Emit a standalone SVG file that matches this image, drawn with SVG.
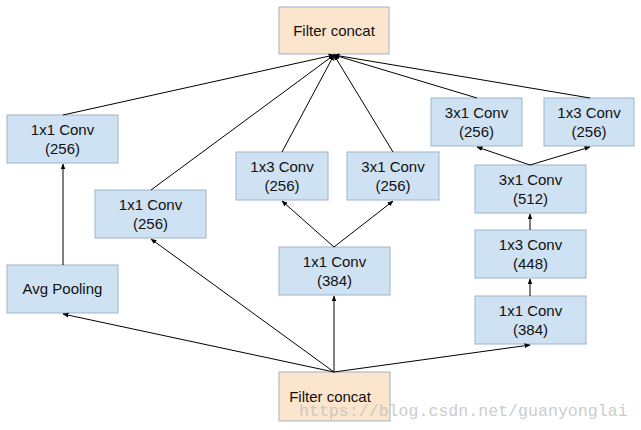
<svg xmlns="http://www.w3.org/2000/svg" width="641" height="430" viewBox="0 0 641 430">
<defs>
<style>
.b{fill:#cfe2f3;stroke:#9db3cc;stroke-width:1}
.o{fill:#fce5cd;stroke:#9db3cc;stroke-width:1}
.t{font-family:"Liberation Sans",Arial,sans-serif;font-size:15px;fill:#111;text-anchor:middle}
.c line{stroke:#000;stroke-width:1;marker-end:url(#a)}
.w{font-family:"Liberation Mono","Courier New",monospace;font-size:16.6px;fill:#c4c4c4;opacity:0.85}
</style>
<marker id="a" viewBox="0 0 10 10" refX="9" refY="5" markerWidth="6" markerHeight="6" orient="auto" markerUnits="userSpaceOnUse">
<path d="M0,1 L10,5 L0,9 z" fill="#000"/>
</marker>
</defs>
<rect width="641" height="430" fill="#fff"/>
<g id="concat_top"><rect class="o" x="279" y="7" width="110" height="47"/><text class="t" x="334" y="36">Filter concat</text></g>
<g id="conv_l1"><rect class="b" x="7" y="115" width="111" height="48"/><text class="t" x="62.5" y="135">1x1 Conv</text><text class="t" x="62.5" y="154">(256)</text></g>
<g id="avgpool"><rect class="b" x="7" y="265" width="111" height="48"/><text class="t" x="62.5" y="294">Avg Pooling</text></g>
<g id="conv_l2"><rect class="b" x="95" y="190" width="111" height="48"/><text class="t" x="150.5" y="210">1x1 Conv</text><text class="t" x="150.5" y="229">(256)</text></g>
<g id="conv_m13"><rect class="b" x="236" y="152" width="92" height="48"/><text class="t" x="282" y="172">1x3 Conv</text><text class="t" x="282" y="191">(256)</text></g>
<g id="conv_m31"><rect class="b" x="347" y="152" width="92" height="48"/><text class="t" x="393" y="172">3x1 Conv</text><text class="t" x="393" y="191">(256)</text></g>
<g id="conv_m11"><rect class="b" x="279" y="247" width="111" height="48"/><text class="t" x="334.5" y="267">1x1 Conv</text><text class="t" x="334.5" y="286">(384)</text></g>
<g id="conv_r31a"><rect class="b" x="431" y="98" width="91" height="48"/><text class="t" x="476.5" y="118">3x1 Conv</text><text class="t" x="476.5" y="137">(256)</text></g>
<g id="conv_r13a"><rect class="b" x="544" y="98" width="90" height="48"/><text class="t" x="589" y="118">1x3 Conv</text><text class="t" x="589" y="137">(256)</text></g>
<g id="conv_r31"><rect class="b" x="475" y="165" width="111" height="48"/><text class="t" x="530.5" y="185">3x1 Conv</text><text class="t" x="530.5" y="204">(512)</text></g>
<g id="conv_r13"><rect class="b" x="475" y="230" width="111" height="48"/><text class="t" x="530.5" y="250">1x3 Conv</text><text class="t" x="530.5" y="269">(448)</text></g>
<g id="conv_r11"><rect class="b" x="475" y="296" width="111" height="48"/><text class="t" x="530.5" y="316">1x1 Conv</text><text class="t" x="530.5" y="335">(384)</text></g>
<g id="concat_bottom"><rect class="o" x="279" y="372" width="111" height="49"/><text class="t" x="330" y="402">Filter concat</text></g>
<g class="c" id="connectors">
<line x1="63" y1="115" x2="334" y2="55"/>
<line x1="151" y1="190" x2="334" y2="55"/>
<line x1="282" y1="152" x2="334" y2="55"/>
<line x1="393" y1="152" x2="334" y2="55"/>
<line x1="477" y1="98" x2="334" y2="55"/>
<line x1="590" y1="98" x2="334" y2="55"/>
<line x1="63" y1="265" x2="63" y2="164"/>
<line x1="334" y1="247" x2="282" y2="201"/>
<line x1="334" y1="247" x2="393" y2="201"/>
<line x1="334" y1="372" x2="63" y2="314"/>
<line x1="334" y1="372" x2="151" y2="239"/>
<line x1="334" y1="372" x2="334" y2="296"/>
<line x1="334" y1="372" x2="530" y2="345"/>
<line x1="530" y1="296" x2="530" y2="279"/>
<line x1="530" y1="230" x2="530" y2="214"/>
<line x1="530" y1="165" x2="477" y2="147"/>
<line x1="530" y1="165" x2="590" y2="147"/>
</g>
<text class="w" x="299" y="416">https://blog.csdn.net/guanyonglai</text>
</svg>
